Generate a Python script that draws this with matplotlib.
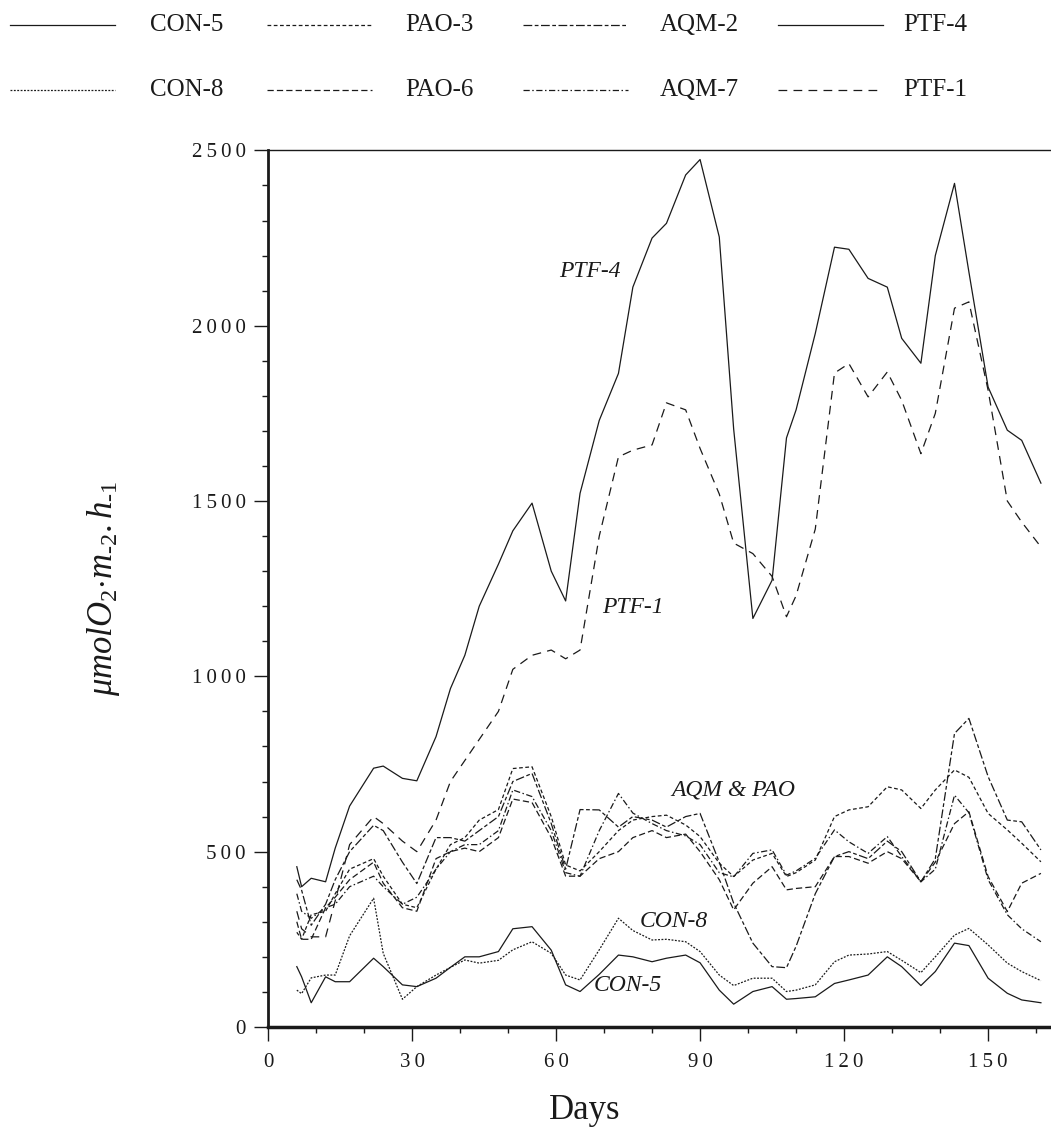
import matplotlib
matplotlib.use('Agg')
import matplotlib.pyplot as plt
from matplotlib.lines import Line2D
from matplotlib.ticker import MultipleLocator, FuncFormatter

plt.rcParams['font.family'] = ['Liberation Serif', 'DejaVu Serif']
plt.rcParams['mathtext.fontset'] = 'custom'
plt.rcParams['mathtext.rm'] = 'Liberation Serif'
plt.rcParams['mathtext.it'] = 'Liberation Serif:italic'

days = [6, 7, 9, 12, 14, 17, 22, 24, 28, 31, 35, 38, 41, 44, 48, 51, 55, 59, 62, 65,
        69, 73, 76, 80, 83, 87, 90, 94, 97, 101, 105, 108, 110, 114, 118, 121, 125, 129,
        132, 136, 139, 143, 146, 150, 154, 157, 161]

con5 = [172, 143, 69, 143, 129, 129, 196, 172, 120, 115, 139, 170, 200, 200, 215, 280, 286, 219, 120, 101,
        150, 205, 200, 186, 196, 205, 183, 105, 65, 101, 115, 79, 81, 86, 124, 134, 148, 200,
        172, 118, 158, 239, 232, 139, 96, 77, 69]
con8 = [105, 95, 140, 148, 148, 260, 367, 210, 79, 115, 148, 170, 191, 182, 190, 220, 243, 210, 148, 134,
        220, 310, 275, 248, 250, 243, 215, 148, 118, 139, 139, 101, 105, 120, 186, 205, 208, 215,
        190, 155, 200, 262, 281, 234, 182, 158, 132]
pao3 = [270, 250, 320, 330, 380, 450, 480, 430, 350, 340, 450, 520, 540, 590, 620, 737, 742, 600, 462, 445,
        500, 560, 590, 600, 604, 576, 543, 467, 429, 476, 495, 429, 440, 476, 600, 619, 628, 685,
        676, 623, 676, 733, 712, 609, 562, 524, 471]
pao6 = [300, 250, 250, 340, 370, 420, 470, 410, 340, 330, 480, 500, 510, 500, 540, 650, 640, 540, 430, 430,
        480, 500, 540, 560, 540, 550, 500, 420, 334, 410, 457, 391, 395, 400, 486, 486, 467, 500,
        480, 414, 470, 580, 614, 429, 329, 410, 438]
aqm2 = [420, 390, 290, 350, 420, 500, 575, 560, 470, 409, 540, 540, 530, 560, 600, 700, 723, 580, 450, 620,
        619, 570, 600, 590, 570, 600, 609, 470, 353, 239, 172, 169, 230, 380, 486, 500, 480, 530,
        500, 414, 480, 837, 880, 714, 590, 585, 505]
aqm7 = [380, 330, 310, 340, 350, 400, 430, 400, 350, 370, 450, 500, 520, 520, 560, 676, 657, 560, 440, 430,
        560, 666, 610, 580, 560, 545, 520, 440, 428, 495, 505, 433, 445, 481, 562, 528, 495, 543,
        486, 414, 450, 661, 611, 420, 320, 280, 243]
ptf4 = [457, 400, 424, 414, 510, 630, 738, 744, 709, 702, 828, 965, 1060, 1200, 1320, 1415, 1494, 1300, 1215, 1522,
        1730, 1864, 2110, 2250, 2292, 2430, 2474, 2253, 1705, 1165, 1274, 1680, 1760, 1978, 2224, 2218, 2135, 2110,
        1964, 1893, 2200, 2406, 2153, 1825, 1702, 1673, 1551]
ptf1 = [330, 280, 257, 257, 360, 520, 600, 580, 530, 500, 590, 700, 760, 820, 900, 1020, 1060, 1075, 1050, 1075,
        1400, 1626, 1645, 1660, 1780, 1760, 1650, 1520, 1380, 1350, 1285, 1170, 1230, 1420, 1865, 1892, 1797, 1868,
        1787, 1635, 1750, 2050, 2068, 1816, 1500, 1440, 1369]

series = [
    ('CON-5', con5, '-'),
    ('PAO-3', pao3, (0, (3, 2))),
    ('AQM-2', aqm2, (0, (7, 2, 3, 2))),
    ('PTF-4', ptf4, '-'),
    ('CON-8', con8, (0, (1.5, 1.2))),
    ('PAO-6', pao6, (0, (5, 2.5))),
    ('AQM-7', aqm7, (0, (5, 2, 1.2, 2))),
    ('PTF-1', ptf1, (0, (7, 5))),
]
ink = '#1a1a1a'


def spaced(v, pos):
    # old typeset look: digits set a little apart
    return '\u2009'.join(str(int(v)))


fig = plt.figure(figsize=(10.51, 11.30), dpi=100)
ax = fig.add_axes([0.255, 0.0912, 0.745, 0.7757])

for name, vals, ls in series:
    ax.plot(days, vals, color=ink, lw=0.9, linestyle=ls)

ax.set_xlim(0, 163.1)
ax.set_ylim(0, 2500)
ax.xaxis.set_major_locator(MultipleLocator(30))
ax.xaxis.set_minor_locator(MultipleLocator(10))
ax.yaxis.set_major_locator(MultipleLocator(500))
ax.yaxis.set_minor_locator(MultipleLocator(100))
ax.xaxis.set_major_formatter(FuncFormatter(spaced))
ax.yaxis.set_major_formatter(FuncFormatter(spaced))
ax.tick_params(which='major', length=10, width=1, labelsize=15, color=ink, labelcolor=ink)
ax.tick_params(axis='y', which='major', pad=6)
ax.tick_params(axis='x', which='major', pad=9)
ax.tick_params(which='minor', length=4, width=1, color=ink)
ax.spines['right'].set_visible(False)
ax.spines['top'].set_linewidth(1.0)
ax.spines['left'].set_linewidth(2.0)
ax.spines['bottom'].set_linewidth(2.5)
for s in ax.spines.values():
    s.set_color(ink)

ax.set_xlabel('Days', fontsize=25, color=ink)
ax.xaxis.set_label_coords(0.404, -0.077)
ax.set_ylabel(r'$\mu molO_2{\cdot}m_{\text{-2}}.h_{\text{-1}}$', fontsize=25, labelpad=50, color=ink)

# curve labels
lab = dict(fontsize=17, style='italic', color=ink, ha='center', va='center')
ax.text(67, 2155, 'PTF-4', **lab)
ax.text(76, 1195, 'PTF-1', **lab)
ax.text(97, 676, 'AQM & PAO', **lab)
ax.text(84.5, 300, 'CON-8', **lab)
ax.text(75, 117, 'CON-5', **lab)

# two-row legend across the top
col_x = [10, 267, 523, 778]
text_x = [150, 405, 660, 903]
row_y = [25, 90]
W, H = 1051, 1130
for i, (name, vals, ls) in enumerate(series):
    y0 = 1 - row_y[i // 4] / H
    x0 = col_x[i % 4]
    fig.add_artist(Line2D([x0 / W, (x0 + 105) / W], [y0, y0],
                          transform=fig.transFigure, color=ink, lw=0.9, linestyle=ls))
    fig.text(text_x[i % 4] / W, y0, name, fontsize=18, color=ink, va='center', ha='left')

fig.savefig('out.png', dpi=100)
